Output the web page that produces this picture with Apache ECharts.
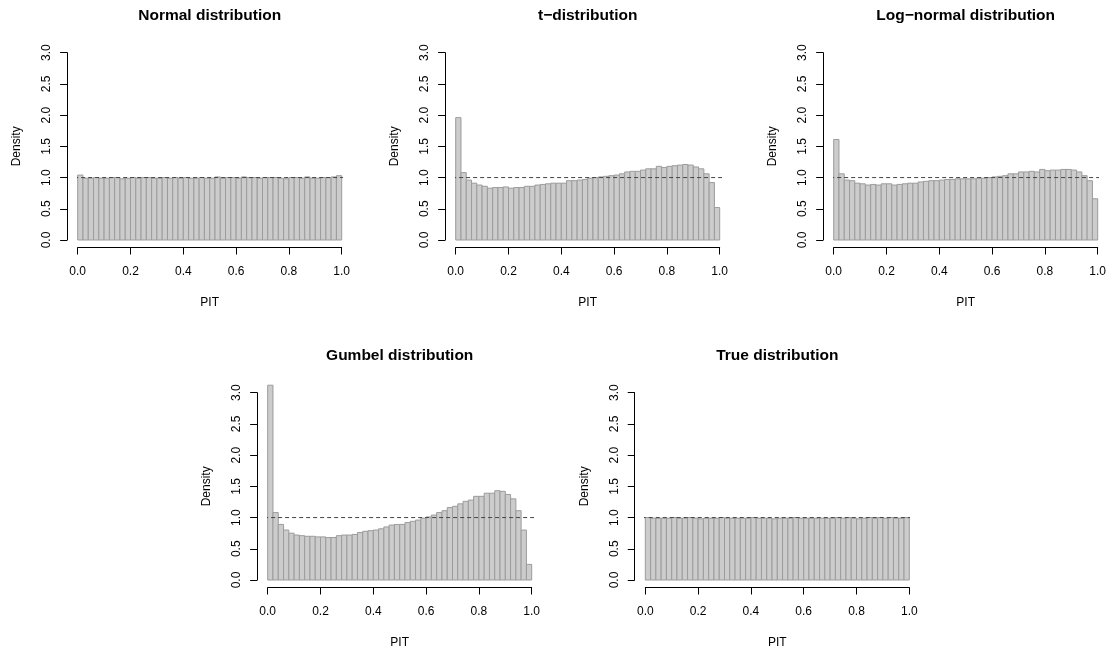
<!DOCTYPE html>
<html>
<head>
<meta charset="utf-8">
<title>PIT histograms</title>
<script src="https://cdn.jsdelivr.net/npm/echarts@6/dist/echarts.min.js"></script>
<style>
html, body { margin: 0; padding: 0; background: #fff; }
#main { width: 1112px; height: 652px; }
</style>
</head>
<body>
<div id="main"></div>
<script>
// histogram breaks on the PIT scale (50 bins)
var breaks = [0.00, 0.02, 0.04, 0.06, 0.08, 0.10, 0.12, 0.14, 0.16, 0.18,
    0.20, 0.22, 0.24, 0.26, 0.28, 0.30, 0.32, 0.34, 0.36, 0.38,
    0.40, 0.42, 0.44, 0.46, 0.48, 0.50, 0.52, 0.54, 0.56, 0.58,
    0.60, 0.62, 0.64, 0.66, 0.68, 0.70, 0.72, 0.74, 0.76, 0.78,
    0.80, 0.82, 0.84, 0.86, 0.88, 0.90, 0.92, 0.94, 0.96, 0.98, 1.00];

var normalDensity = [1.04, 0.99, 0.99, 1.00, 0.99, 0.99, 1.00, 1.00, 0.98, 0.99,
    1.00, 0.99, 1.00, 1.00, 0.99, 0.99, 1.00, 0.99, 1.00, 0.99,
    1.00, 0.99, 0.99, 1.00, 0.99, 0.99, 1.01, 0.99, 1.00, 1.00,
    0.99, 1.01, 1.00, 1.00, 0.99, 1.00, 1.00, 1.00, 0.99, 0.98,
    1.00, 1.00, 0.99, 1.01, 0.99, 0.99, 1.00, 1.00, 1.01, 1.03];

var tDensity = [1.96, 1.08, 0.96, 0.91, 0.88, 0.86, 0.83, 0.84, 0.84, 0.85,
    0.83, 0.84, 0.84, 0.86, 0.86, 0.88, 0.89, 0.90, 0.91, 0.91,
    0.91, 0.95, 0.95, 0.96, 0.97, 0.99, 1.00, 1.01, 1.02, 1.03,
    1.04, 1.06, 1.09, 1.10, 1.10, 1.12, 1.14, 1.14, 1.18, 1.16,
    1.18, 1.19, 1.20, 1.21, 1.20, 1.17, 1.14, 1.06, 0.92, 0.52];

var logNormalDensity = [1.61, 1.06, 0.96, 0.95, 0.91, 0.90, 0.88, 0.89, 0.88, 0.90,
    0.90, 0.88, 0.89, 0.90, 0.91, 0.91, 0.93, 0.94, 0.95, 0.95,
    0.96, 0.97, 0.97, 0.98, 0.98, 0.98, 0.98, 0.99, 0.99, 1.00,
    1.01, 1.02, 1.03, 1.06, 1.06, 1.09, 1.09, 1.10, 1.09, 1.13,
    1.11, 1.12, 1.12, 1.13, 1.13, 1.12, 1.09, 1.03, 0.95, 0.66];

var gumbelDensity = [4.00, 1.08, 0.89, 0.80, 0.75, 0.72, 0.71, 0.70, 0.70, 0.69,
    0.69, 0.68, 0.68, 0.71, 0.72, 0.72, 0.73, 0.76, 0.78, 0.79,
    0.80, 0.82, 0.85, 0.88, 0.89, 0.89, 0.92, 0.94, 0.96, 0.99,
    1.01, 1.04, 1.08, 1.11, 1.16, 1.18, 1.22, 1.26, 1.28, 1.34,
    1.34, 1.39, 1.39, 1.43, 1.42, 1.37, 1.30, 1.11, 0.80, 0.25];

var trueDensity = [1.00, 0.99, 0.99, 0.99, 0.99, 1.00, 0.99, 0.99, 1.00, 0.99,
    0.98, 0.99, 0.99, 0.99, 1.00, 0.99, 0.99, 0.99, 0.99, 0.99,
    1.00, 0.99, 0.99, 0.99, 0.98, 0.99, 0.99, 0.99, 1.00, 0.99,
    0.99, 0.99, 0.99, 0.99, 0.99, 0.99, 1.00, 0.99, 1.00, 0.99,
    0.98, 0.99, 1.00, 0.99, 1.00, 0.99, 1.00, 0.99, 0.99, 1.00];

var panelTitles = ['Normal distribution', 't\u2212distribution', 'Log\u2212normal distribution',
    'Gumbel distribution', 'True distribution'];
var panelDensities = [normalDensity, tDensity, logNormalDensity, gumbelDensity, trueDensity];
var uniformLevel = 1;

// data region (0..1 by 0..3) of each panel, in px
var boxes = [
    {left: 77.7, top: 52.7},
    {left: 455.7, top: 52.7},
    {left: 833.7, top: 52.7},
    {left: 267.7, top: 392.7},
    {left: 645.3, top: 392.7}
];
var boxW = 264, boxH = 187.3;
var ext = 0.04;   // R pads each axis range by 4%

var font = 'Liberation Sans, Arial, Helvetica, sans-serif';
var barFill = '#cccccc';
var barBorder = '#9c9c9c';

function renderBin(params, api) {
    var p0 = api.coord([api.value(0), api.value(2)]);
    var p1 = api.coord([api.value(1), 0]);
    var cs = params.coordSys;
    var padX = cs.width * ext, padY = cs.height * ext;
    var shape = echarts.graphic.clipRectByRect(
        {x: p0[0], y: p0[1], width: p1[0] - p0[0], height: p1[1] - p0[1]},
        {x: cs.x - padX, y: cs.y - padY, width: cs.width + 2 * padX, height: cs.height + 2 * padY}
    );
    if (!shape) return;
    return {
        type: 'rect',
        shape: shape,
        style: {fill: barFill, stroke: barBorder, lineWidth: 1}
    };
}

var grid = [], xAxis = [], yAxis = [], series = [], graphic = [];

boxes.forEach(function (b, i) {
    grid.push({left: b.left, top: b.top, width: boxW, height: boxH});

    xAxis.push({
        type: 'value', gridIndex: i, min: 0, max: 1, interval: 0.2,
        offset: boxH * ext,
        name: 'PIT', nameLocation: 'middle', nameGap: 49,
        nameTextStyle: {fontFamily: font, fontSize: 12, color: '#000'},
        axisLine: {show: true, onZero: false, lineStyle: {color: '#000', width: 1}},
        axisTick: {show: true, length: 7, lineStyle: {color: '#000'}},
        axisLabel: {
            fontFamily: font, fontSize: 12, color: '#000', margin: 18,
            formatter: function (v) { return v.toFixed(1); }
        },
        splitLine: {show: false}
    });

    yAxis.push({
        type: 'value', gridIndex: i, min: 0, max: 3, interval: 0.5,
        offset: boxW * ext,
        name: 'Density', nameLocation: 'middle', nameGap: 44.5, nameRotate: 90,
        nameTextStyle: {fontFamily: font, fontSize: 12, color: '#000'},
        axisLine: {show: true, onZero: false, lineStyle: {color: '#000', width: 1}},
        axisTick: {show: true, length: 7, lineStyle: {color: '#000'}},
        axisLabel: {
            fontFamily: font, fontSize: 12, color: '#000', margin: 14, rotate: 90,
            formatter: function (v) { return v.toFixed(1); }
        },
        splitLine: {show: false}
    });

    var bins = panelDensities[i].map(function (d, k) {
        return [breaks[k], breaks[k + 1], d];
    });

    series.push({
        type: 'custom',
        xAxisIndex: i, yAxisIndex: i,
        renderItem: renderBin,
        clip: false,
        silent: true,
        encode: {x: [0, 1], y: 2},
        data: bins
    });

    series.push({
        type: 'line',
        xAxisIndex: i, yAxisIndex: i,
        clip: false,
        silent: true,
        symbol: 'none',
        lineStyle: {color: '#444', width: 1, type: [4, 3]},
        data: [[0 - ext, uniformLevel], [1 + ext, uniformLevel]]
    });

    graphic.push({
        type: 'text',
        x: b.left + boxW / 2,
        y: b.top - 36.5,
        style: {
            text: panelTitles[i],
            font: 'bold 15.5px ' + font,
            fill: '#000',
            align: 'center',
            verticalAlign: 'middle'
        }
    });
});

var myChart = echarts.init(document.getElementById('main'));
myChart.setOption({
    backgroundColor: '#fff',
    animation: false,
    grid: grid,
    xAxis: xAxis,
    yAxis: yAxis,
    series: series,
    graphic: graphic
});
</script>
</body>
</html>
